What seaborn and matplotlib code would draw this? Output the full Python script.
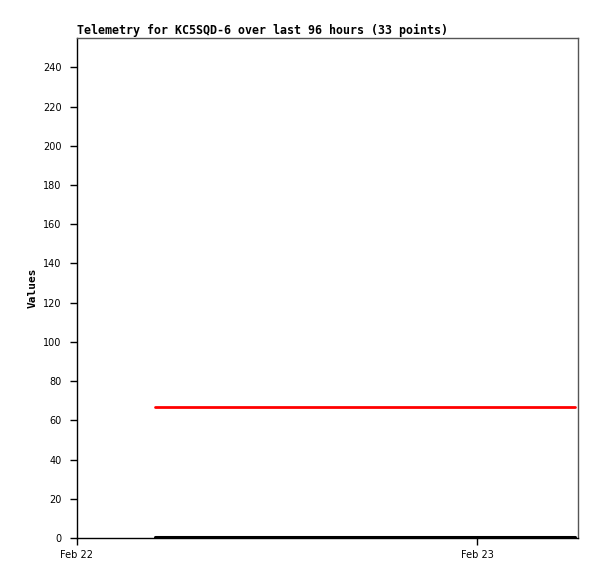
import matplotlib
matplotlib.use("Agg")
from matplotlib import pyplot as plt
import matplotlib.dates as mdates
import numpy as np
import pandas
import seaborn as sns

# sample times (hours after Feb 22 00:00), 33 points
hours = [4.7, 5.5, 6.3, 7.1, 7.8, 8.6, 9.4, 10.2, 11.0, 11.8, 12.6,
         13.4, 14.1, 14.9, 15.7, 16.5, 17.3, 18.1, 18.9, 19.7, 20.4, 21.2,
         22.0, 22.8, 23.6, 24.4, 25.2, 26.0, 26.7, 27.5, 28.3, 29.1, 29.9]
values_red = [67] * 33
values_black = [0.4] * 33

start = pandas.Timestamp("2021-02-22 00:00")
times = [start + pandas.Timedelta(hours=h) for h in hours]
dataframe = pandas.DataFrame({"time": times, "red": values_red, "black": values_black})

sns.set_style("white")
plt.rcParams["font.family"] = ["DejaVu Sans"]
plt.rcParams["text.color"] = "black"
plt.rcParams["axes.labelcolor"] = "black"

fig = plt.figure(figsize=(5.97, 5.79), dpi=100)
ax = fig.add_axes([77 / 597, 41 / 579, 501 / 597, 500 / 579])

sns.lineplot(data=dataframe, x="time", y="red", ax=ax, color="#ff0000", linewidth=2)
sns.lineplot(data=dataframe, x="time", y="black", ax=ax, color="black", linewidth=2.2)

ax.set_xlim(start, start + pandas.Timedelta(hours=30.06))
ax.set_ylim(0, 255)
ax.set_yticks(np.arange(0, 241, 20))
ax.xaxis.set_major_locator(mdates.DayLocator())
ax.xaxis.set_major_formatter(mdates.DateFormatter("%b %d"))
ax.tick_params(axis="both", direction="out", length=5, width=1, labelsize=7, colors="black",
               labelcolor="black", bottom=True, left=True)
ax.tick_params(axis="x", pad=4)
ax.tick_params(axis="y", pad=6)

for side in ["left", "bottom"]:
    ax.spines[side].set_color("black")
    ax.spines[side].set_linewidth(1)
for side in ["top", "right"]:
    ax.spines[side].set_color("#555555")
    ax.spines[side].set_linewidth(1)

ax.set_xlabel("")
ax.set_ylabel("Values", fontsize=8, fontweight="bold", family="DejaVu Sans Mono", labelpad=4,
              color="black")
ax.set_title("Telemetry for KC5SQD-6 over last 96 hours (33 points)", loc="left",
             fontsize=8.35, fontweight="bold", family="DejaVu Sans Mono", pad=3, color="black")

fig.savefig("out.png", dpi=100)
